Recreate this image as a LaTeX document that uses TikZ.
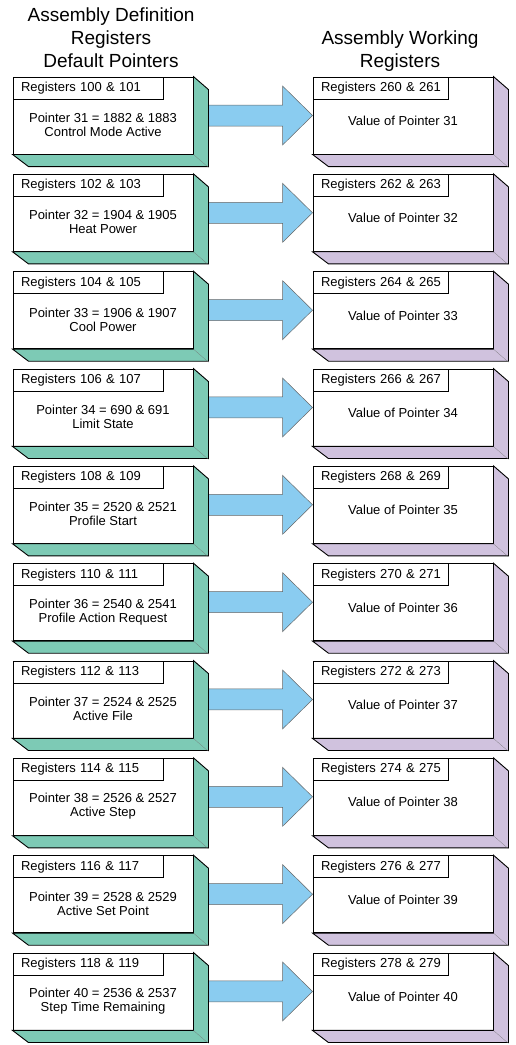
\documentclass[tikz,border=0pt]{standalone}
\usepackage{fontspec}
\setmainfont{Liberation Sans}
\usetikzlibrary{calc}
\definecolor{sidegreen}{RGB}{125,202,181}
\definecolor{sidepurple}{RGB}{208,194,222}
\definecolor{arrowblue}{RGB}{138,204,240}

\begin{document}
\begin{tikzpicture}[x=1pt,y=-1pt,
  face/.style={draw=black,fill=white,line width=0.9pt,minimum width=180pt,minimum height=77pt,inner sep=0pt},
  tab/.style={draw=black,fill=white,line width=0.9pt,minimum height=22pt,inner xsep=8pt,inner ysep=0pt,align=left,font=\fontsize{13}{14}\selectfont,anchor=north west},
  body/.style={align=center,font=\fontsize{13}{14}\selectfont,inner sep=0pt},
  ttl/.style={font=\fontsize{19}{22}\selectfont,anchor=base,inner sep=0pt},
  side/.style={draw=black,line width=0.9pt},
  crease/.style={draw=black!55,very thin},
  bigarrow/.style={draw=black!60,fill=arrowblue,line width=0.5pt}]
\useasboundingbox (0,0) rectangle (516,1045);

\node[ttl] (defA) at (111,21) {Assembly Definition};
\node[ttl] (defB) at (111,44) {Registers};
\node[ttl] (defC) at (111,67) {Default Pointers};
\node[ttl] (wrkA) at (400,44) {Assembly Working};
\node[ttl] (wrkB) at (400,67) {Registers};

\foreach \pa/\pb/\nm [count=\i from 0] in {1882/1883/Control Mode Active,1904/1905/Heat Power,1906/1907/Cool Power,690/691/Limit State,2520/2521/Profile Start,2540/2541/Profile Action Request,2524/2525/Active File,2526/2527/Active Step,2528/2529/Active Set Point,2536/2537/Step Time Remaining}{
\pgfmathsetmacro{\yc}{115.5+97.33*\i}
\pgfmathtruncatemacro{\la}{100+2*\i}
\pgfmathtruncatemacro{\lb}{101+2*\i}
\pgfmathtruncatemacro{\ra}{260+2*\i}
\pgfmathtruncatemacro{\rb}{261+2*\i}
\pgfmathtruncatemacro{\ptr}{31+\i}
\node[face] (L\i) at (103,\yc) {};
\node[face] (R\i) at (403,\yc) {};
\draw[bigarrow] ($(L\i.east)+(15,-10.5)$) -- ($(R\i.west)+(-30,-10.5)$) -- ++(0,-19) -- (R\i.west) -- ++(-30,29.5) -- ++(0,-19) -- ($(L\i.east)+(15,10.5)$) -- cycle;
\draw[side,fill=sidegreen] (L\i.north east) -- ++(15,13) -- ++(0,77) -- ++(-180,0) -- (L\i.south west) -- (L\i.south east) -- cycle;
\draw[crease] (L\i.south east) -- ++(15,13);
\draw[side,fill=sidepurple] (R\i.north east) -- ++(15,13) -- ++(0,77) -- ++(-180,0) -- (R\i.south west) -- (R\i.south east) -- cycle;
\draw[crease] (R\i.south east) -- ++(15,13);
\node[tab,text width=134pt] (LT\i) at (L\i.north west) {\mbox{Registers \la{} \& \lb}};
\node[tab,text width=119pt] (RT\i) at (R\i.north west) {\mbox{Registers \ra{} \& \rb}};
\node[body] (LB\i) at ($(L\i.center)+(0,9.5)$) {Pointer \ptr{} = \pa{} \& \pb\\\nm};
\node[body] (RB\i) at ($(R\i.center)+(0,5.5)$) {Value of Pointer \ptr};
}

\end{tikzpicture}
\end{document}
